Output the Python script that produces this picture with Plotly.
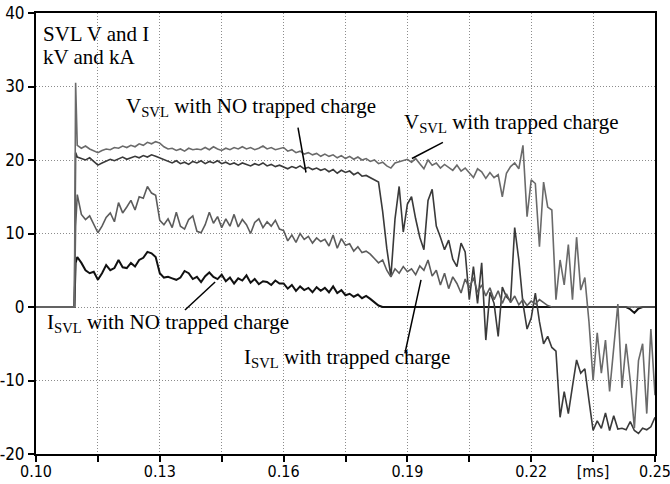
import plotly.graph_objects as go

# time grid (ms)
t = [0.100, 0.1093, 0.1096] + [round(0.110 + 0.001 * i, 4) for i in range(141)]

# V_SVL with NO trapped charge (kV)
v_no = [0, 0, 21.0,
        20.4, 20.2, 20.0, 20.3, 19.8, 19.3, 19.6, 19.9, 20.1, 19.9,
        20.2, 20.4, 20.1, 20.3, 20.5, 20.3, 20.6, 20.4, 20.7, 20.5,
        20.3, 20.0, 19.8, 19.6, 19.9, 19.5, 19.7, 19.4, 19.8, 19.6,
        19.9, 19.5, 19.8, 19.6, 19.9, 19.5, 19.7, 19.4, 19.6, 19.3,
        19.6, 19.4, 19.2, 19.5, 19.3, 19.6, 19.2, 19.4, 19.1, 19.3,
        19.0, 18.8, 19.1, 18.9, 19.2, 18.8, 19.0, 18.7, 18.9, 18.6,
        18.8, 18.4, 18.7, 18.2, 18.6, 18.3, 18.5, 18.0, 18.3, 17.8,
        17.9, 17.6, 17.2, 17.0, 13.0, 8.0, 4.1, 12.0, 16.4, 10.2,
        14.0, 15.0, 12.0, 9.5, 7.8, 14.5, 16.0, 11.0, 9.5, 7.8,
        9.1, 6.5, 5.5, 8.7, 7.5, 1.0, 5.5, 0.5, 6.0, -4.5,
        2.0, 0.5, -4.0, 2.7, 1.4, 0.8, 10.8, 6.4, 0.5, -3.0,
        -1.5, 1.9, -2.0, -5.0, -4.0, -5.5, -6.0, -15.0, -11.5, -14.5,
        -10.8, -7.2, -9.0, -8.4, -12.7, -16.8, -15.5, -16.5, -14.4, -16.8,
        -14.8, -16.6, -16.5, -16.7, -15.6, -16.8, -17.2, -16.5, -16.7, -16.3,
        -15.0]

# V_SVL with trapped charge (kV)
v_tr = [0, 0, 30.5,
        22.0, 21.6, 21.9, 21.5, 21.3, 21.0, 21.3, 21.5, 21.4, 21.7,
        21.6, 21.9, 21.7, 22.0, 21.8, 22.2, 22.0, 22.4, 22.2, 22.5,
        22.3, 21.8, 21.5, 21.6, 21.3, 21.5, 21.2, 21.6, 21.4, 21.5,
        21.4, 21.7, 21.4, 21.8, 21.5, 21.3, 21.6, 21.4, 21.7, 21.5,
        21.8, 21.5, 21.7, 21.4, 21.6, 21.9, 21.5, 21.7, 21.4, 21.6,
        21.7, 21.2, 21.4, 21.0, 21.2, 20.8, 21.0, 20.7, 20.9, 20.5,
        20.8, 20.5, 20.7, 20.3, 20.6, 20.2, 20.5, 20.1, 20.4, 20.0,
        20.2, 19.8, 20.0, 19.5, 19.7, 19.2, 18.9, 19.6, 19.8, 19.9,
        20.1, 19.7, 20.2, 19.5, 18.8, 20.0, 19.3, 19.6, 18.9, 19.4,
        19.0, 18.6, 19.3, 18.5, 18.9, 18.2, 17.6, 18.8, 18.4, 17.5,
        18.3, 17.6, 18.0, 15.0, 18.2, 19.1, 19.6, 18.8, 22.0, 12.3,
        17.3, 16.8, 8.2, 17.0, 13.6, 13.2, 1.0, 6.4, 3.0, 8.5,
        1.0, 9.5, 2.3, 4.0, -2.0, -10.0, -3.5, -9.0, -4.5, -11.5,
        -5.0, 0.4, -11.0, -5.0, -10.0, -16.5, -7.3, -5.0, -14.5, -3.0,
        -12.0]

# I_SVL with trapped charge (kA)
i_tr = [0, 0, 11.0,
        15.3, 12.6, 11.9, 12.4, 11.2, 10.1, 11.0, 12.2, 12.8, 11.6,
        14.2, 12.8, 13.6, 14.5, 13.2, 15.0, 14.8, 16.4, 15.5, 15.2,
        11.8, 11.2, 12.0, 10.8, 12.9, 11.0, 10.6, 11.9, 12.4, 10.3,
        10.1, 11.2, 12.9, 11.4, 12.3, 10.8, 12.0, 11.0, 12.6, 10.9,
        11.9, 11.2, 10.0, 11.5, 12.0, 10.8, 11.6, 11.0, 11.8, 10.6,
        10.4, 9.0, 9.8, 8.8, 10.0, 9.2, 9.6, 8.7, 9.4, 8.9,
        9.2, 8.3, 9.8, 8.0, 9.3, 8.4, 8.6, 7.6, 8.2, 7.4,
        7.6, 7.2, 6.6, 6.0, 6.4, 5.0, 4.1, 5.2, 4.6, 5.5,
        4.8, 5.2, 4.4, 5.6, 5.0, 6.4, 4.2, 5.0, 3.0, 4.6,
        2.5, 4.1, 3.2, 1.9, 3.8, 2.6, 4.0, 2.0, 3.0, 1.5,
        2.6, 1.0, 2.2, 0.5, 1.8, 0.6, 1.5, 0.3, 1.0, 0.2,
        0.8, 0.4, 1.0, 0.6, 0.2, 0.0, 0.0, 0.0, 0.0, 0.0,
        0.0, 0.0, 0.0, 0.0, 0.0, 0.0, 0.0, 0.0, 0.0, 0.0,
        0.0, 0.0, 0.0, 0.0, 0.0, 0.0, 0.0, 0.0, 0.0, 0.0,
        0.0]

# I_SVL with NO trapped charge (kA)
i_no = [0, 0, 6.0,
        6.8, 6.0, 5.0, 4.6, 4.8, 3.7, 4.6, 5.7, 5.0, 5.3,
        6.4, 5.4, 5.3, 6.0, 5.5, 6.4, 6.7, 7.5, 7.3, 6.8,
        4.6, 4.0, 4.1, 3.9, 3.7, 4.0, 4.9, 4.6, 3.8, 4.1,
        3.4, 4.2, 4.7, 4.1, 3.8, 4.4, 3.5, 4.0, 3.2, 3.9,
        3.6, 4.3, 3.3, 3.8, 3.1, 3.5, 3.4, 3.0, 3.6, 3.2,
        3.2, 2.5, 3.0, 2.2, 2.8, 2.3, 2.6, 2.0, 2.7, 2.2,
        2.6, 2.0, 2.8, 1.9, 2.3, 1.6, 1.8, 1.4, 1.7, 1.2,
        1.5, 1.1, 0.6, 0.2, 0.0, 0.0, 0.0, 0.0, 0.0, 0.0,
        0.0, 0.0, 0.0, 0.0, 0.0, 0.0, 0.0, 0.0, 0.0, 0.0,
        0.0, 0.0, 0.0, 0.0, 0.0, 0.0, 0.0, 0.0, 0.0, 0.0,
        0.0, 0.0, 0.0, 0.0, 0.0, 0.0, 0.0, 0.0, 0.0, 0.0,
        0.0, 0.0, 0.0, 0.0, 0.0, 0.0, 0.0, 0.0, 0.0, 0.0,
        0.0, 0.0, 0.0, 0.0, 0.0, 0.0, 0.0, 0.0, 0.0, 0.0,
        0.0, 0.0, 0.0, 0.0, -0.3, -0.8, -0.2, 0.0, 0.0, 0.0,
        0.0]

x_tickvals = [0.10, 0.13, 0.16, 0.19, 0.22, 0.235, 0.25]
x_ticktext = ["0.10", "0.13", "0.16", "0.19", "0.22", "[ms]", "0.25"]
x_minorvals = [0.115, 0.145, 0.175, 0.205]
y_tickvals = [-20, -10, 0, 10, 20, 30, 40]
y_ticktext = ["-20", "-10", "0", "10", "20", "30", "40"]

fig = go.Figure()
fig.add_trace(go.Scatter(x=t, y=i_no, mode="lines", line=dict(color="#111111", width=2.0),
                         name="I_SVL NO trapped"))
fig.add_trace(go.Scatter(x=t, y=v_no, mode="lines", line=dict(color="#3a3a3a", width=1.6),
                         name="V_SVL NO trapped"))
fig.add_trace(go.Scatter(x=t, y=i_tr, mode="lines", line=dict(color="#5c5c5c", width=1.6),
                         name="I_SVL trapped"))
fig.add_trace(go.Scatter(x=t, y=v_tr, mode="lines", line=dict(color="#6a6a6a", width=1.6),
                         name="V_SVL trapped"))

serif = "Liberation Serif, Times New Roman, serif"
narrow = "Liberation Sans Narrow, DejaVu Sans Condensed, Arial Narrow, sans-serif"

ann = [
    dict(x=0.1012, y=37.1, text="SVL V and I"),
    dict(x=0.1012, y=34.0, text="kV and kA"),
    dict(x=0.1214, y=27.2, text="V<sub>SVL</sub> with NO trapped charge"),
    dict(x=0.1888, y=25.0, text="V<sub>SVL</sub> with trapped charge"),
    dict(x=0.1023, y=-2.2, text="I<sub>SVL</sub> with NO trapped charge"),
    dict(x=0.1499, y=-7.0, text="I<sub>SVL</sub> with trapped charge"),
]
for a in ann:
    fig.add_annotation(x=a["x"], y=a["y"], text=a["text"], xref="x", yref="y",
                       xanchor="left", yanchor="middle", showarrow=False,
                       font=dict(family=serif, size=21, color="black"))

pointers = [
    (0.16349, 24.4, 0.16542, 18.3),
    (0.1986, 22.4, 0.1911, 20.2),
    (0.1361, -0.4, 0.1434, 3.4),
    (0.1894, -6.3, 0.1933, 3.7),
]
for x0, y0, x1, y1 in pointers:
    fig.add_shape(type="line", x0=x0, y0=y0, x1=x1, y1=y1, xref="x", yref="y",
                  line=dict(color="black", width=1.5))

fig.update_layout(
    width=670, height=484,
    margin=dict(l=36, r=15, t=13, b=30, autoexpand=False),
    plot_bgcolor="white", paper_bgcolor="white",
    showlegend=False,
    font=dict(family=narrow, size=17, color="black"),
)
grid = dict(showgrid=True, gridcolor="#8c8c8c", griddash="1px,2px", gridwidth=1)
fig.update_xaxes(range=[0.10, 0.25], tickmode="array", tickvals=x_tickvals, ticktext=x_ticktext,
                 showline=True, linecolor="black", linewidth=2, mirror=True,
                 ticks="outside", ticklen=6, tickwidth=1.5, tickcolor="black",
                 minor=dict(tickmode="array", tickvals=x_minorvals, ticks="outside",
                            ticklen=6, tickwidth=1.5, tickcolor="black", **grid),
                 zeroline=False, automargin=False, ticklabeloverflow="allow",
                 ticklabelstandoff=-4, tickfont=dict(family=narrow, size=16),
                 **grid)
fig.update_yaxes(range=[-20, 40], tickvals=y_tickvals, ticktext=y_ticktext,
                 showline=True, linecolor="black", linewidth=2, mirror=True,
                 ticks="outside", ticklen=6, tickwidth=2, tickcolor="black",
                 zeroline=False, automargin=False, ticklabeloverflow="allow",
                 tickfont=dict(family=narrow, size=17),
                 **grid)

# remove the default 8px page margin so the figure fills the window exactly
fig.write_html("out.html", config={"displayModeBar": False},
               post_script="document.body.style.margin='0';document.body.style.overflow='hidden';")
